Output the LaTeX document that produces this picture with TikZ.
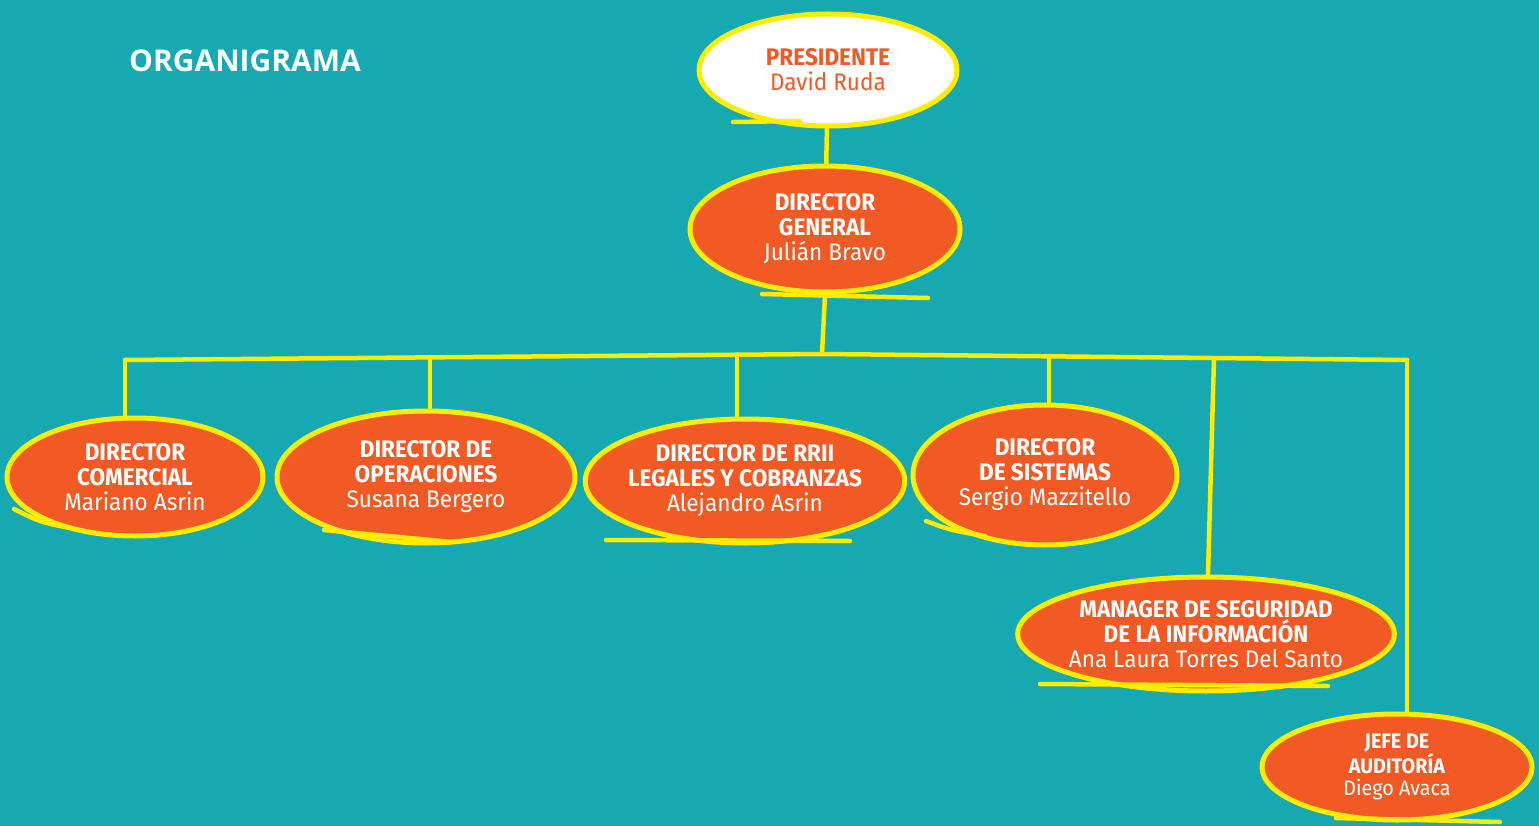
\documentclass[tikz,border=0pt]{standalone}
\usepackage{fontspec}
\setmainfont{Fira Sans}[FakeStretch=0.94]
\newfontfamily\titlefont{Open Sans}
\usetikzlibrary{shapes.geometric,backgrounds}

\definecolor{teal-bg}{HTML}{17A9B1}
\definecolor{org-orange}{HTML}{F15A24}
\definecolor{org-yellow}{HTML}{FFEC00}

\tikzstyle{org-bubble}=[ellipse, draw=org-yellow, line width=5pt, fill=org-orange,
      text=white, align=center, inner sep=-4pt, font=\fontsize{24}{25}\selectfont]
\tikzstyle{org-link}=[draw=org-yellow, line width=4.5pt, line cap=round]
\tikzstyle{org-tail}=[draw=org-yellow, line width=4.5pt, line cap=round]

\begin{document}
\begin{tikzpicture}[x=1pt, y=-1pt]
      \useasboundingbox (0,0) rectangle (1539,826);
      \begin{pgfonlayer}{background}
            \fill[teal-bg] (0,0) rectangle (1539,826);
      \end{pgfonlayer}

      \node (title) at (245,61) [text=white, font=\titlefont\bfseries\fontsize{30}{30}\selectfont] {ORGANIGRAMA};

      \node (presidente) at (828,70)
            [org-bubble, fill=white, text=org-orange, minimum width=258pt, minimum height=112pt]
            {\textbf{PRESIDENTE}\\David Ruda};
      \node (general) at (825,229)
            [org-bubble, minimum width=270pt, minimum height=126pt]
            {\textbf{DIRECTOR}\\\textbf{GENERAL}\\Julián Bravo};
      \node (comercial) at (135,477)
            [org-bubble, minimum width=256pt, minimum height=118pt]
            {\textbf{DIRECTOR}\\\textbf{COMERCIAL}\\Mariano Asrin};
      \node (operaciones) at (426,477)
            [org-bubble, minimum width=298pt, minimum height=132pt]
            {\textbf{DIRECTOR DE}\\\textbf{OPERACIONES}\\Susana Bergero};
      \node (legales) at (745,481)
            [org-bubble, minimum width=318pt, minimum height=124pt]
            {\textbf{DIRECTOR DE RRII}\\\textbf{LEGALES Y COBRANZAS}\\Alejandro Asrin};
      \node (sistemas) at (1045,475)
            [org-bubble, minimum width=264pt, minimum height=140pt]
            {\textbf{DIRECTOR}\\\textbf{DE SISTEMAS}\\Sergio Mazzitello};
      \node (seguridad) at (1206,634)
            [org-bubble, minimum width=374pt, minimum height=114pt]
            {\textbf{MANAGER DE SEGURIDAD}\\\textbf{DE LA INFORMACIÓN}\\Ana Laura Torres Del Santo};
      \node (auditoria) at (1397,767)
            [org-bubble, minimum width=270pt, minimum height=106pt, font=\fontsize{21}{22.5}\selectfont]
            {\textbf{JEFE DE}\\\textbf{AUDITORÍA}\\Diego Avaca};

      \coordinate (bus-left) at (125,360);
      \coordinate (bus-mid) at (822,354);
      \coordinate (bus-right) at (1407,360);
      \coordinate (bus-oper) at (430,357);
      \coordinate (bus-leg) at (737,355);
      \coordinate (bus-sis) at (1049,356);
      \coordinate (bus-seg) at (1214,358);

      \begin{pgfonlayer}{background}
            \draw[org-link] (presidente) -- (general);
            \draw[org-link] (general.south) -- (bus-mid);
            \draw[org-link] (bus-left) -- (bus-mid) -- (bus-right);
            \draw[org-link] (bus-left) -- (bus-left |- comercial.north);
            \draw[org-link] (bus-oper) -- (bus-oper |- operaciones.north);
            \draw[org-link] (bus-leg) -- (bus-leg |- legales.north);
            \draw[org-link] (bus-sis) -- (bus-sis |- sistemas.north);
            \draw[org-link] (bus-seg) -- ([xshift=-6pt]bus-seg |- seguridad.north);
            \draw[org-link] (bus-right) -- (bus-right |- auditoria.north);
      \end{pgfonlayer}

      % trazos sueltos bajo cada globo
      \draw[org-tail] (733,122) -- (800,121);
      \draw[org-tail] (762,294) -- (928,298);
      \draw[org-tail] (14,509) .. controls (40,522) .. (70,528);
      \draw[org-tail] (324,530) -- (452,542);
      \draw[org-tail] (606,540) -- (850,541);
      \draw[org-tail] (926,521) .. controls (950,530) .. (985,536);
      \draw[org-tail] (1040,684) -- (1328,686);
      \draw[org-tail] (1336,818) -- (1500,822);
\end{tikzpicture}
\end{document}
